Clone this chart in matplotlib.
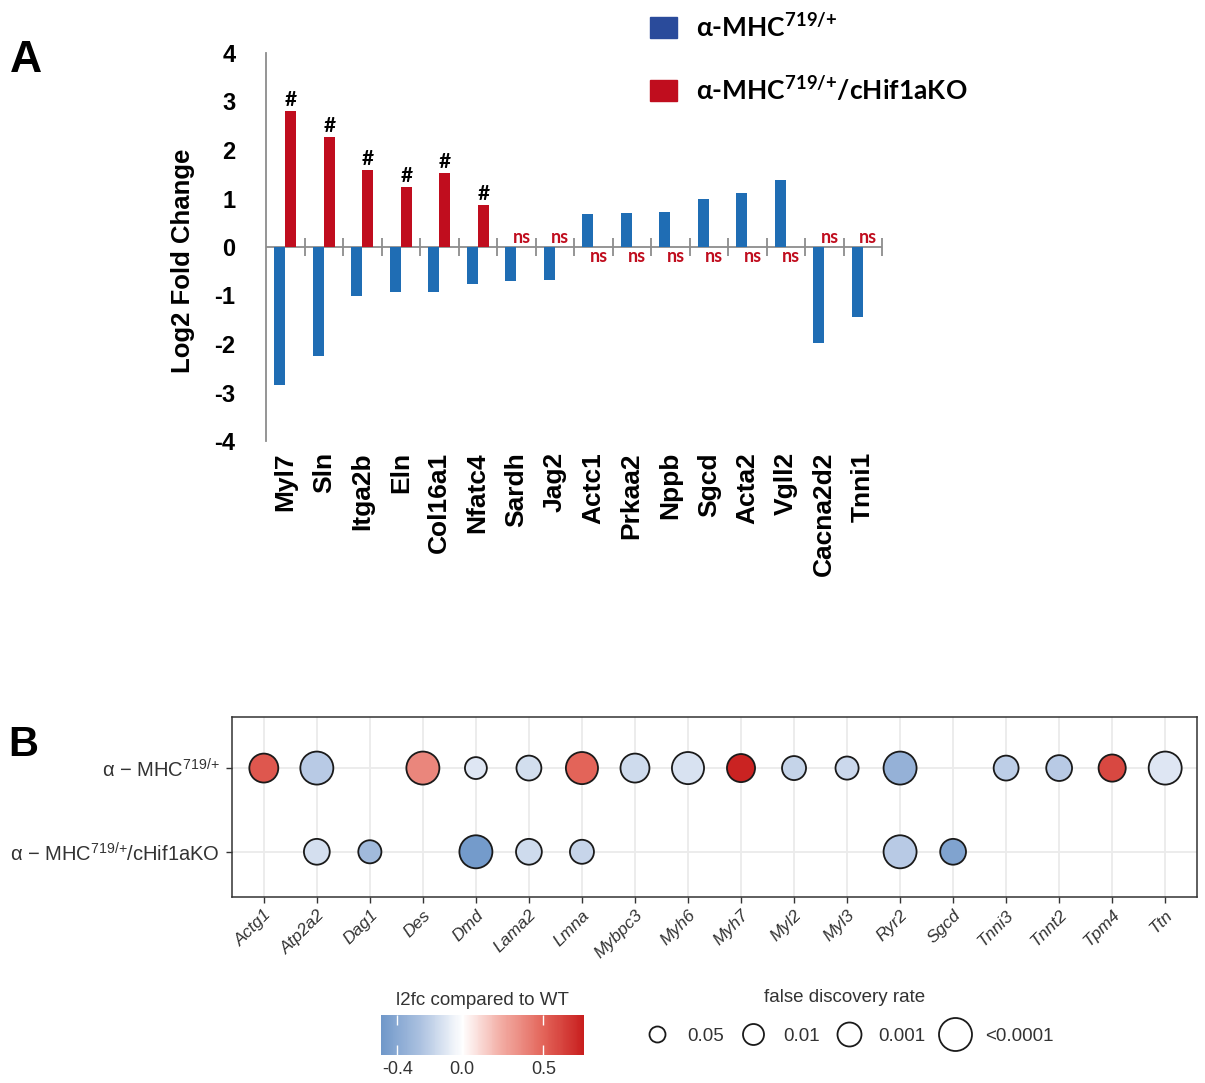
import numpy as np
import matplotlib
matplotlib.use("Agg")
import matplotlib.pyplot as plt
from matplotlib.patches import Patch
from matplotlib.lines import Line2D
from matplotlib.colors import LinearSegmentedColormap, Normalize
from matplotlib.cm import ScalarMappable

plt.rcParams['font.family'] = ['Liberation Sans', 'DejaVu Sans']
plt.rcParams['mathtext.default'] = 'regular'
plt.rcParams['axes.unicode_minus'] = False

# ---- panel A data ----
genes_a = ["Myl7", "Sln", "Itga2b", "Eln", "Col16a1", "Nfatc4", "Sardh", "Jag2",
           "Actc1", "Prkaa2", "Nppb", "Sgcd", "Acta2", "Vgll2", "Cacna2d2", "Tnni1"]
lfc_het = [-2.84, -2.24, -1.02, -0.93, -0.93, -0.76, -0.70, -0.69,
           0.68, 0.71, 0.72, 0.99, 1.12, 1.38, -1.98, -1.45]
lfc_ko = [2.80, 2.26, 1.59, 1.23, 1.53, 0.86, 0, 0,
          0, 0, 0, 0, 0, 0, 0, 0]
ko_sig = [True, True, True, True, True, True, False, False,
          False, False, False, False, False, False, False, False]

# ---- panel B data ----
genes_b = ["Actg1", "Atp2a2", "Dag1", "Des", "Dmd", "Lama2", "Lmna", "Mybpc3", "Myh6",
           "Myh7", "Myl2", "Myl3", "Ryr2", "Sgcd", "Tnni3", "Tnnt2", "Tpm4", "Ttn"]
nan = np.nan
b_het_l2fc = [0.55, -0.22, nan, 0.38, -0.10, -0.14, 0.50, -0.15, -0.12,
              0.73, -0.18, -0.16, -0.35, nan, -0.20, -0.22, 0.60, -0.10]
b_het_fdr = [4.1, 5.0, nan, 5.0, 2.3, 3.2, 4.8, 4.1, 4.8,
             3.9, 3.0, 2.7, 5.0, nan, 3.2, 3.4, 3.7, 5.0]   # -log10(FDR)
b_ko_l2fc = [nan, -0.13, -0.30, nan, -0.48, -0.15, -0.17, nan, nan,
             nan, nan, nan, -0.22, -0.43, nan, nan, nan, nan]
b_ko_fdr = [nan, 3.4, 2.7, nan, 5.0, 3.4, 3.0, nan, nan,
            nan, nan, nan, 5.0, 3.4, nan, nan, nan, nan]
row_labels = ["α − MHC$^{719/{+}}$/cHif1aKO", "α − MHC$^{719/{+}}$"]
fdr_breaks = [1.3, 2, 3, 5]
fdr_labels = ["0.05", "0.01", "0.001", "<0.0001"]


def diam_px(v):
    return np.interp(v, [1.3, 2, 3, 5], [16, 21, 24, 33])


fig = plt.figure(figsize=(12.05, 10.83), dpi=100)

# ================= panel A =================
blue = "#1f6db4"
red = "#c00d1e"
ax = fig.add_axes([266 / 1205, 1 - 441 / 1083, 616 / 1205, 388 / 1083])
n = len(genes_a)
xc = np.arange(n) + 0.5
w = 0.29
ax.bar(xc, lfc_het, width=-w, align='edge', color=blue, zorder=2)
ax.bar(xc, lfc_ko, width=w, align='edge', color=red, zorder=2)
ax.set_xlim(0, n)
ax.set_ylim(-4, 4)
ax.axhline(0, color='#8c8c8c', lw=1.3, zorder=1)
ax.plot(np.arange(1, n + 1), np.zeros(n), ls='', marker='|', ms=13, mew=1.3,
        color='#8c8c8c', zorder=1)
for s in ['top', 'right', 'bottom']:
    ax.spines[s].set_visible(False)
ax.spines['left'].set_color('#8c8c8c')
ax.spines['left'].set_linewidth(1.3)
ax.set_yticks(range(-4, 5))
ax.tick_params(axis='y', length=0, pad=22, labelsize=17)
for t in ax.get_yticklabels():
    t.set_fontweight('bold')
ax.set_xticks(xc)
ax.set_xticklabels(genes_a, rotation=90, fontsize=19, fontweight='bold', va='top')
ax.tick_params(axis='x', length=0, pad=8)
ax.set_ylabel("Log2 Fold Change", fontsize=18.5, fontweight='bold')
ax.yaxis.set_label_coords(-0.115, 0.465)

for i in range(n):
    if ko_sig[i]:
        ax.text(xc[i] + w / 2, lfc_ko[i] + 0.02, "#", ha='center', va='bottom',
                fontsize=15, family='Lato', fontweight='bold', color='black')
    elif lfc_het[i] < 0:
        ax.text(xc[i] + w / 2, 0.02, "ns", ha='center', va='bottom',
                fontsize=13, family='Lato', fontweight='bold', color=red)
    else:
        ax.text(xc[i] + w / 2, -0.02, "ns", ha='center', va='top',
                fontsize=13, family='Lato', fontweight='bold', color=red)

fig.legend(handles=[Patch(color="#2a4b9b"), Patch(color=red)],
           labels=["α-MHC$^{719/{+}}$", "α-MHC$^{719/{+}}$/cHif1aKO"],
           loc='upper left', bbox_to_anchor=(629 / 1205, 1 + 8 / 1083),
           frameon=False, handlelength=1.0, handleheight=0.85,
           handletextpad=0.75, labelspacing=1.3, borderpad=0.3,
           prop={'family': 'Lato', 'weight': 'bold', 'size': 19})

fig.text(10 / 1205, 1 - 60 / 1083, "A", fontsize=32, fontweight='bold', va='center')
fig.text(8 / 1205, 1 - 745 / 1083, "B", fontsize=30, fontweight='bold', va='center')

# ================= panel B =================
cmap = LinearSegmentedColormap.from_list(
    'l2fc', [(0, '#3d6db2'), (1 / 6, '#6f97c9'), (1 / 3, '#aec3e1'), (0.5, '#ffffff'),
             (2 / 3, '#f2aaa1'), (5 / 6, '#e3655a'), (1, '#c81e1e')])
norm = Normalize(-0.75, 0.75)

bx = fig.add_axes([232 / 1205, 1 - 897 / 1083, 965 / 1205, 180 / 1083])
xb = np.arange(1, len(genes_b) + 1)
for yrow, vals, fdr in [(2, b_het_l2fc, b_het_fdr), (1, b_ko_l2fc, b_ko_fdr)]:
    vals = np.array(vals)
    fdr = np.array(fdr)
    m = ~np.isnan(vals)
    s = (diam_px(fdr[m]) * 0.72) ** 2
    bx.scatter(xb[m], np.full(m.sum(), yrow), s=s, c=vals[m], cmap=cmap, norm=norm,
               edgecolors='#1a1a1a', linewidths=1.3, zorder=3)
bx.set_xlim(0.4, len(genes_b) + 0.6)
bx.set_ylim(0.46, 2.61)
bx.set_xticks(xb)
bx.set_xticklabels(genes_b, rotation=45, ha='right', rotation_mode='anchor',
                   fontsize=12.5, style='italic', color='#333333')
bx.set_yticks([1, 2])
bx.set_yticklabels(row_labels, fontsize=14.5, color='#333333')
bx.tick_params(length=4, color='#333333', width=1)
bx.tick_params(axis='y', pad=5)
bx.grid(True, color='#ebebeb', lw=1.3)
bx.set_axisbelow(True)
for s in bx.spines.values():
    s.set_color('#333333')
    s.set_linewidth(1.1)

# colour bar
cax = fig.add_axes([381 / 1205, 1 - 1055 / 1083, 203 / 1205, 40 / 1083])
cb = fig.colorbar(ScalarMappable(norm=norm, cmap=cmap), cax=cax, orientation='horizontal',
                  boundaries=np.linspace(-0.5, 0.75, 200))
cb.outline.set_visible(False)
cb.set_ticks([-0.4, 0.0, 0.5])
cb.set_ticklabels(["-0.4", "0.0", "0.5"])
cax.tick_params(axis='x', direction='in', color='white', length=7, width=1,
                top=True, bottom=True, labelsize=13, labelcolor='#333333', pad=4)
cax.set_title("l2fc compared to WT", fontsize=13.5, color='#333333', pad=7)

# size legend
handles = [Line2D([], [], ls='', marker='o', mfc='white', mec='#1a1a1a', mew=1.3,
                  ms=diam_px(v) * 0.72) for v in fdr_breaks]
fig.legend(handles=handles, labels=fdr_labels, ncol=4, loc='center',
           bbox_to_anchor=(849 / 1205, 1 - 1036 / 1083), frameon=False,
           handlelength=1.3, handletextpad=0.95, columnspacing=0.9,
           prop={'size': 13.5}, labelcolor='#333333')
fig.text(845 / 1205, 1 - 997 / 1083, "false discovery rate", fontsize=13.5,
         color='#333333', ha='center', va='center')

fig.savefig("out.png", dpi=100)
